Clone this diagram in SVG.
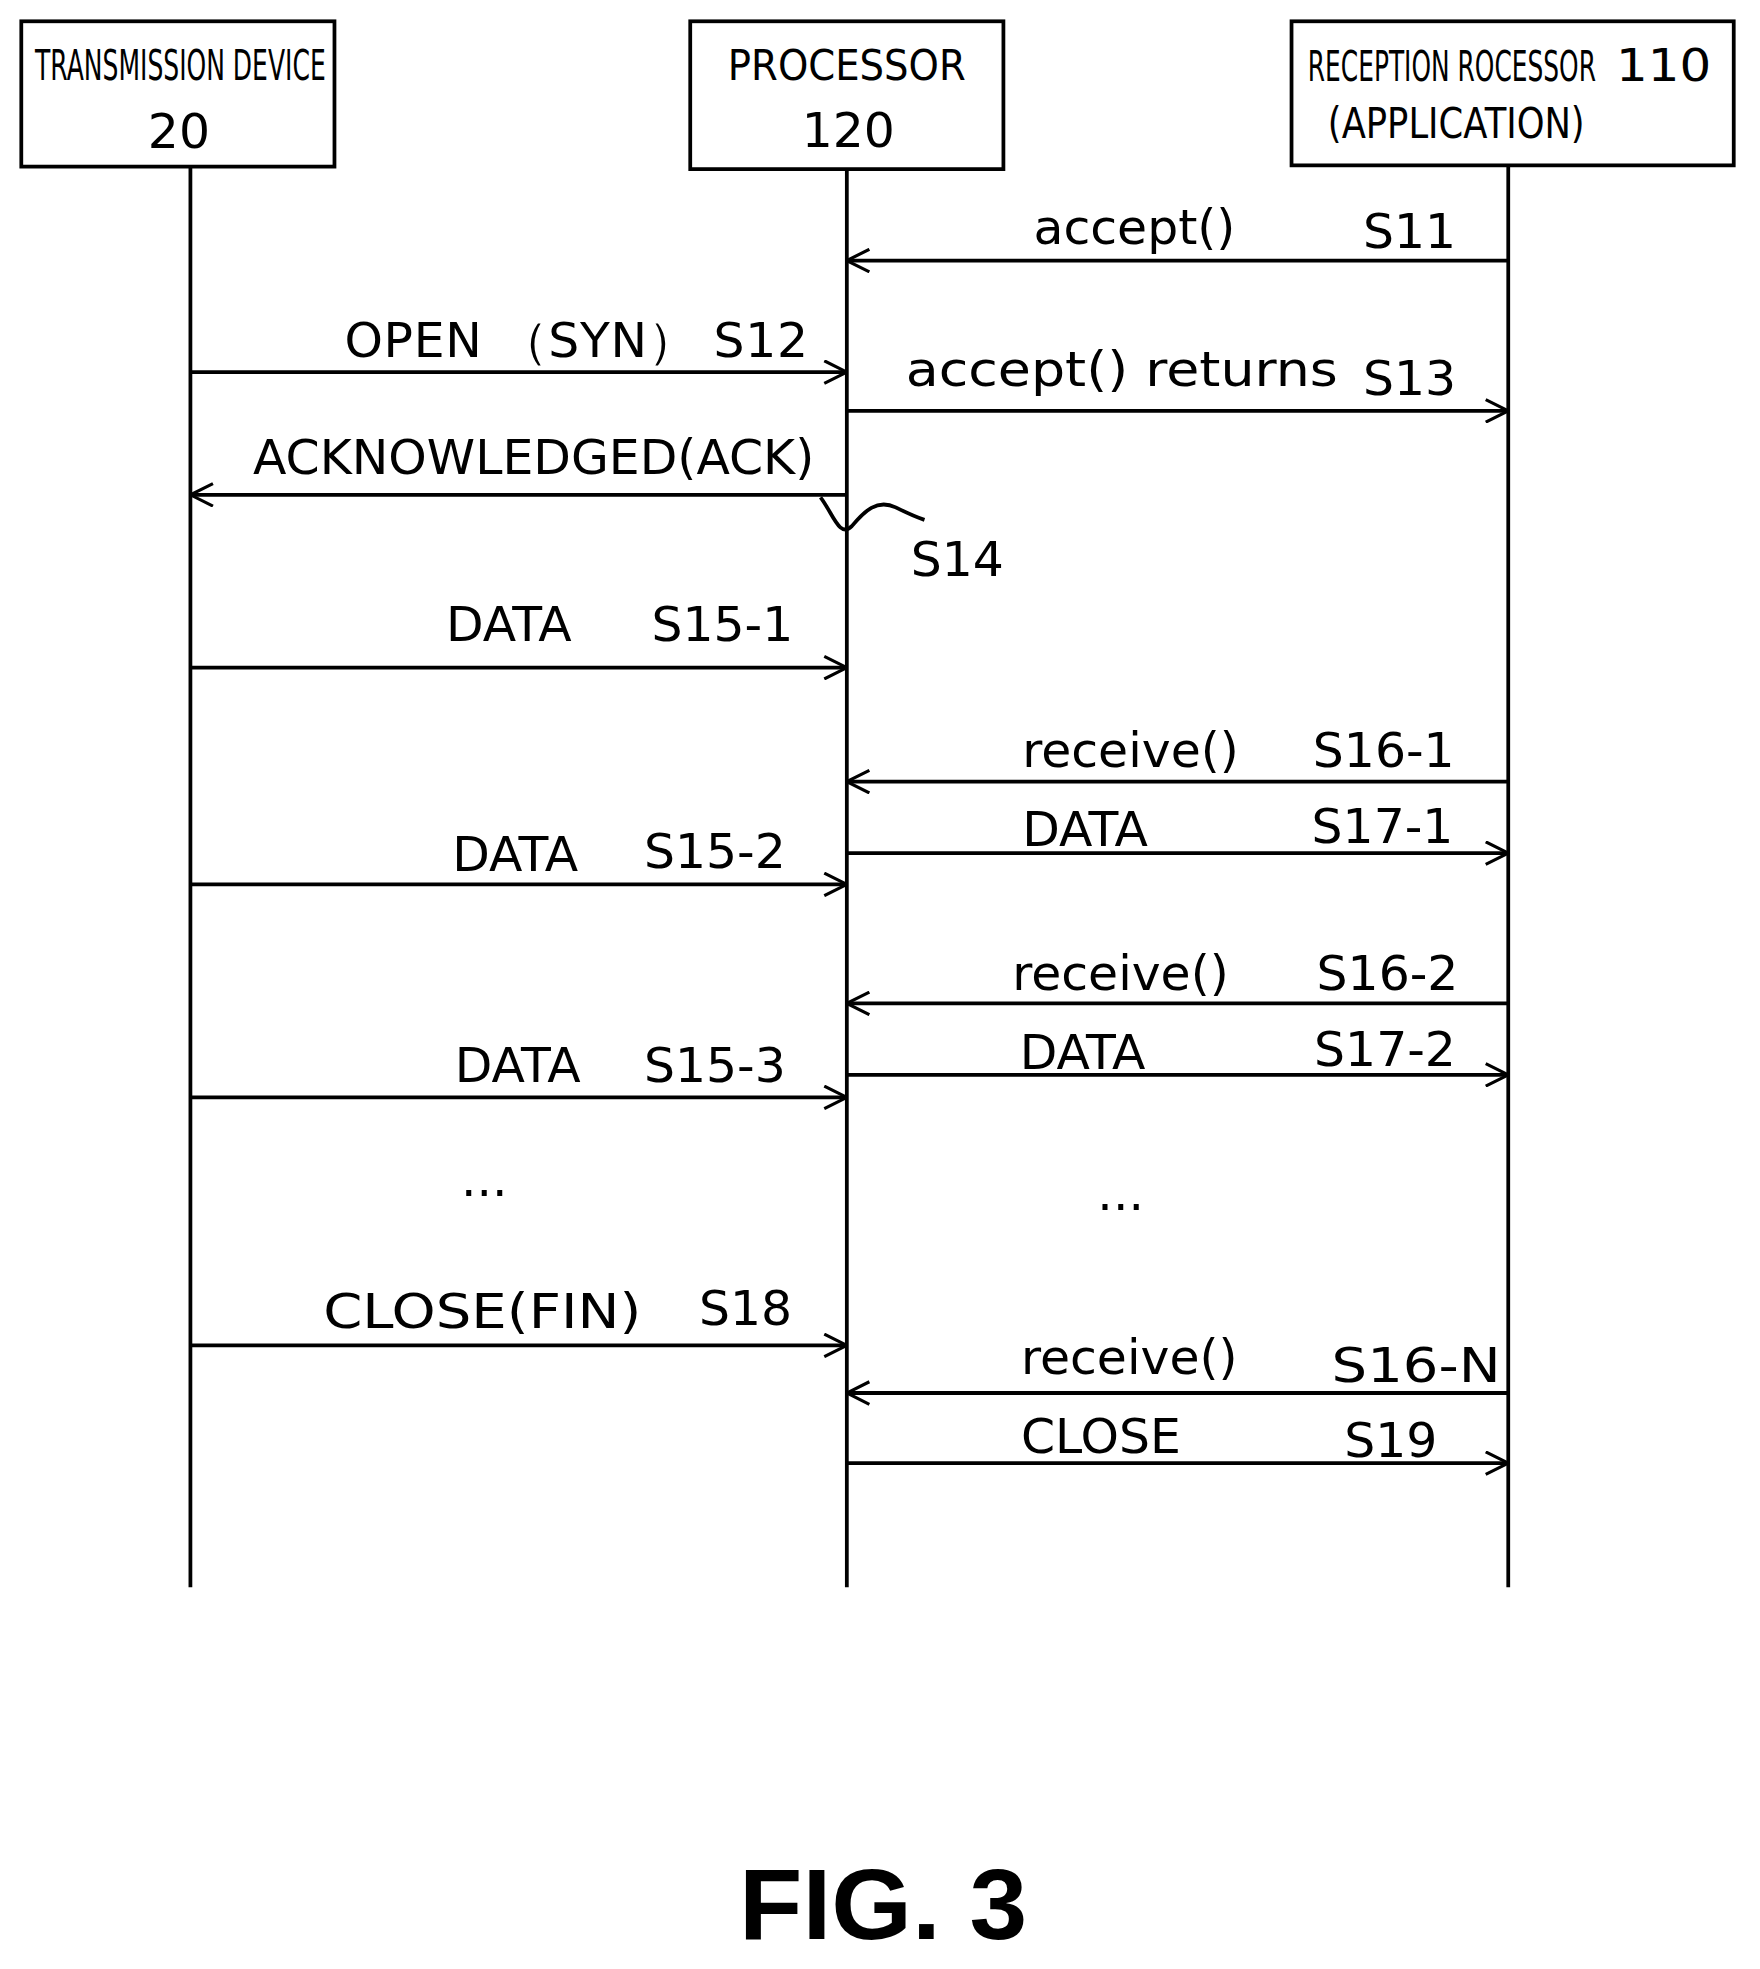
<svg xmlns="http://www.w3.org/2000/svg" width="1760" height="1969" viewBox="0 0 1760 1969">
<defs>
<marker id="ah" viewBox="0 0 20 20" refX="19" refY="10" markerWidth="20" markerHeight="20" markerUnits="userSpaceOnUse" orient="auto">
<path d="M1,1 L19,10 L1,19" fill="none" stroke="#000" stroke-width="2.5"/>
</marker>
<style>
.box{fill:#fff;stroke:#000;stroke-width:3}
.ll{stroke:#000;stroke-width:3;fill:none}
.msg{stroke:#000;stroke-width:3;fill:none;marker-end:url(#ah)}
text{font-family:"DejaVu Sans","Liberation Sans",Arial,sans-serif;font-size:39px;fill:#000}
.hd{font-size:34px}
</style>
</defs>
<rect width="1760" height="1969" fill="#fff"/>
<g transform="scale(1.2527)">
<g id="transmission">
<rect class="box" x="17" y="17" width="250" height="116"/>
<text class="hd" x="28" y="64" textLength="232" lengthAdjust="spacingAndGlyphs">TRANSMISSION DEVICE</text>
<text x="118" y="118">20</text>
</g>
<g id="processor">
<rect class="box" x="551" y="17" width="250" height="118"/>
<text class="hd" x="581" y="64" textLength="190" lengthAdjust="spacingAndGlyphs">PROCESSOR</text>
<text x="640" y="117">120</text>
</g>
<g id="reception">
<rect class="box" x="1031" y="17" width="353" height="115"/>
<text class="hd" x="1044" y="65" textLength="230" lengthAdjust="spacingAndGlyphs">RECEPTION ROCESSOR</text>
<text x="1290" y="65" style="font-size:36px" textLength="76" lengthAdjust="spacingAndGlyphs">110</text>
<text class="hd" x="1060" y="110" textLength="205" lengthAdjust="spacingAndGlyphs">(APPLICATION)</text>
</g>
<g id="connectors">
<path class="ll" d="M152,133V1267M676,135V1267M1204,132V1267"/>
<path class="msg" d="M1204,208H676"/>
<path class="msg" d="M152,297H676"/>
<path class="msg" d="M676,328H1204"/>
<path class="msg" d="M676,395H152"/>
<path class="ll" stroke-width="2" d="M655,397 C665,410 670,430 680,420 C690,408 700,398 715,405 C725,410 732,413 738,415"/>
<path class="msg" d="M152,533H676"/>
<path class="msg" d="M1204,624H676"/>
<path class="msg" d="M676,681H1204"/>
<path class="msg" d="M152,706H676"/>
<path class="msg" d="M1204,801H676"/>
<path class="msg" d="M676,858H1204"/>
<path class="msg" d="M152,876H676"/>
<path class="msg" d="M152,1074H676"/>
<path class="msg" d="M1204,1112H676"/>
<path class="msg" d="M676,1168H1204"/>
</g>
<g id="labels">
<text x="825" y="195">accept()</text><text x="1088" y="198">S11</text>
<text x="275" y="285" textLength="370" lengthAdjust="spacing">OPEN （SYN） S12</text>
<text x="723" y="308" textLength="345" lengthAdjust="spacingAndGlyphs">accept() returns</text><text x="1088" y="315">S13</text>
<text x="202" y="378" textLength="448" lengthAdjust="spacingAndGlyphs">ACKNOWLEDGED(ACK)</text>
<text x="727" y="460">S14</text>
<text x="356" y="512">DATA</text><text x="520" y="512">S15-1</text>
<text x="816" y="612">receive()</text><text x="1048" y="612">S16-1</text>
<text x="816" y="675">DATA</text><text x="1047" y="673">S17-1</text>
<text x="361" y="695">DATA</text><text x="514" y="693">S15-2</text>
<text x="808" y="790">receive()</text><text x="1051" y="790">S16-2</text>
<text x="814" y="853">DATA</text><text x="1049" y="851">S17-2</text>
<text x="363" y="864">DATA</text><text x="514" y="864">S15-3</text>
<text x="368" y="955">...</text><text x="876" y="966">...</text>
<text x="258" y="1060" textLength="254" lengthAdjust="spacingAndGlyphs">CLOSE(FIN)</text><text x="558" y="1058">S18</text>
<text x="815" y="1097">receive()</text><text x="1063" y="1103" textLength="135" lengthAdjust="spacingAndGlyphs">S16-N</text>
<text x="815" y="1160">CLOSE</text><text x="1073" y="1163">S19</text>
<text x="590" y="1548" style="font-family:'Liberation Sans',Arial,sans-serif;font-size:80px;font-weight:bold" textLength="230" lengthAdjust="spacingAndGlyphs">FIG. 3</text>
</g>
</g>
</svg>
